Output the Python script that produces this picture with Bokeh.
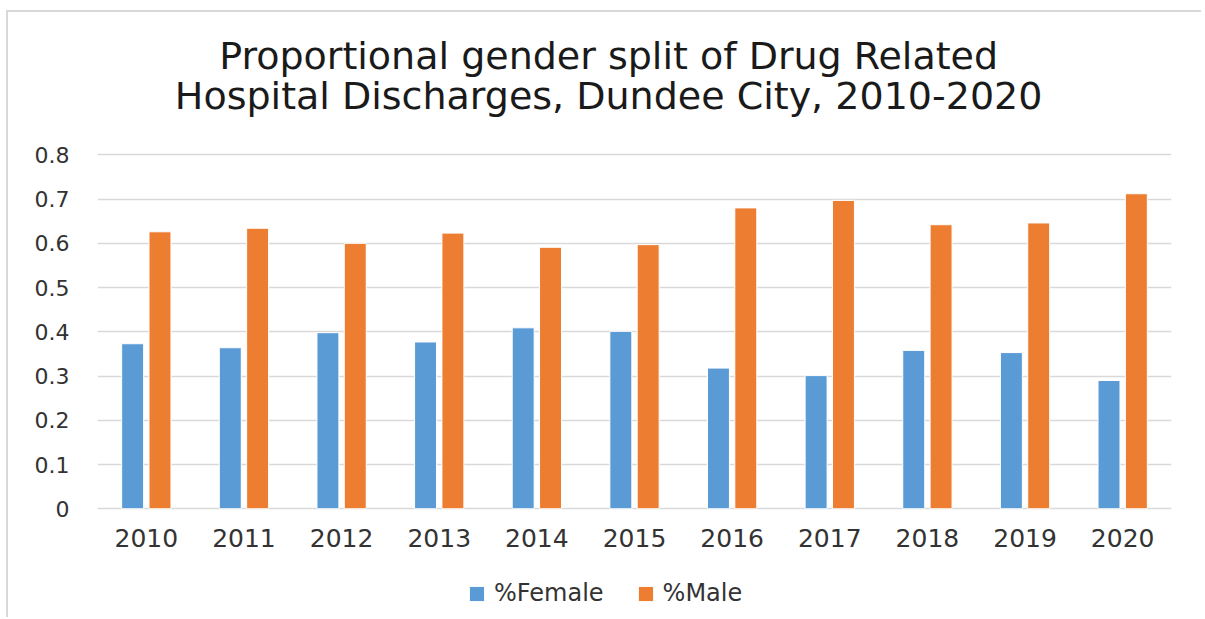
from bokeh.plotting import figure
from bokeh.models import ColumnDataSource, FactorRange, Range1d, Legend, LegendItem, Label, FixedTicker
from bokeh.transform import dodge
from bokeh.core.properties import value
from bokeh.embed import file_html
from bokeh.resources import INLINE

years = ["2010", "2011", "2012", "2013", "2014", "2015", "2016", "2017", "2018", "2019", "2020"]
female = [0.373, 0.364, 0.398, 0.377, 0.409, 0.401, 0.318, 0.301, 0.358, 0.353, 0.290]
male = [0.626, 0.634, 0.600, 0.623, 0.591, 0.597, 0.680, 0.697, 0.642, 0.646, 0.712]
y_ticks = [0, 0.1, 0.2, 0.3, 0.4, 0.5, 0.6, 0.7, 0.8]
title_lines = ["Proportional gender split of Drug Related", "Hospital Discharges, Dundee City, 2010-2020"]

FONT = "DejaVu Sans"
BLUE = "#5B9BD5"
ORANGE = "#ED7D31"

src = ColumnDataSource(dict(year=years, female=female, male=male))

# The frame is extended above and below the 0-0.8 value band so that the title,
# category labels and legend live inside it (side-panel legends collapse here).
p = figure(width=1195, height=607, output_backend="svg", toolbar_location=None,
           x_range=FactorRange(factors=years, range_padding=0),
           y_range=Range1d(-0.2502, 1.1216),
           min_border_left=89, min_border_right=32, min_border_top=0, min_border_bottom=0)
p.title = None
p.styles = {"border-left": "2px solid #d9d9d9", "border-top": "2px solid #d9d9d9",
            "margin-top": "10px", "margin-left": "6px"}

for txt, yy in zip(title_lines, [1.0237, 0.933]):
    p.add_layout(Label(x=5.235, y=yy, text=txt, text_align="center", text_baseline="middle",
                       text_font=FONT, text_font_size="38px", text_color="#1a1a1a"))

rf = p.vbar(x=dodge("year", -0.14, range=p.x_range), top="female", width=0.225, source=src,
            fill_color=BLUE, line_color="white", line_width=1)
rm = p.vbar(x=dodge("year", 0.14, range=p.x_range), top="male", width=0.225, source=src,
            fill_color=ORANGE, line_color="white", line_width=1)

# category labels
p.text(x="year", y=-0.067, text="year", source=src, text_align="center", text_baseline="middle",
       text_font=value(FONT), text_font_size="25px", text_color="#333333")

p.outline_line_color = None
p.xaxis.visible = False
p.xgrid.grid_line_color = None
p.ygrid.grid_line_color = "#d9d9d9"
p.ygrid.grid_line_width = 1.5
p.yaxis.ticker = FixedTicker(ticks=y_ticks)
p.yaxis.major_label_overrides = {0: "0"}
p.yaxis.axis_line_color = None
p.yaxis.major_tick_line_color = None
p.yaxis.minor_tick_line_color = None
p.yaxis.major_tick_out = 0
p.yaxis.major_tick_in = 0
p.yaxis.major_label_text_font = FONT
p.yaxis.major_label_text_color = "#333333"
p.yaxis.major_label_text_font_size = "22px"
p.yaxis.major_label_standoff = 28

legend = Legend(items=[LegendItem(label="%Female", renderers=[rf]),
                       LegendItem(label="%Male", renderers=[rm])],
                orientation="horizontal", location=(370, 12),
                label_text_font=FONT, label_text_font_size="24px", label_text_color="#333333",
                glyph_width=19, glyph_height=19, label_standoff=8, spacing=32,
                border_line_color=None, background_fill_alpha=0, margin=0, padding=5)
p.add_layout(legend, "center")

open("out.html", "w").write(file_html(p, INLINE))
